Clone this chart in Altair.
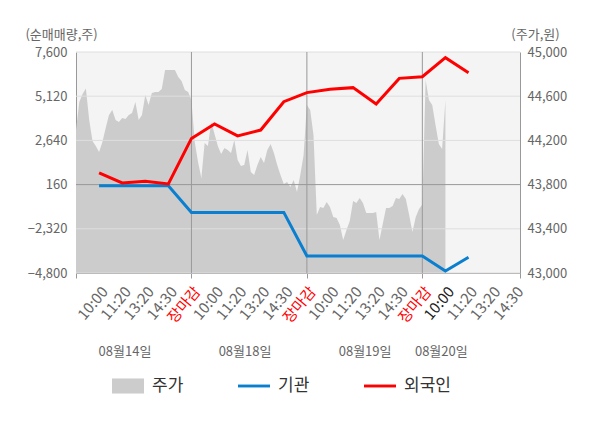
import altair as alt
import pandas as pd

FONT = "Noto Sans CJK KR"

# ---- data ----
series_names = ["주가", "기관", "외국인"]
series_colors = ["#cccccc", "#0a7fd0", "#ff0000"]

slot_labels = ["10:00", "11:20", "13:20", "14:30", "장마감"] * 3 + ["10:00", "11:20", "13:20", "14:30"]
label_slots = list(range(1, 20))

point_slots = list(range(1, 18))
inst_vals = [90, 90, 90, 90, -1400, -1400, -1400, -1400, -1400,
             -3850, -3850, -3850, -3850, -3850, -3850, -4690, -3920]
foreign_vals = [815, 255, 350, 200, 2750, 3560, 2890, 3220, 4810,
                5320, 5510, 5600, 4680, 6120, 6210, 7280, 6440]

price_day1 = [44294, 44548, 44620, 44670, 44385, 44195, 44150, 44095, 44185, 44312,
              44430, 44475, 44385, 44367, 44403, 44394, 44430, 44448, 44548, 44385,
              44430, 44611, 44520, 44629, 44638, 44638, 44665, 44837, 44837, 44837,
              44837, 44774, 44738, 44656, 44638]
price_day2 = [44566, 44185, 44005, 43860, 44177, 44150, 44367, 44258, 44150, 44077,
              44131, 44113, 44086, 44204, 44023, 43968, 43977, 44113, 43914, 43887,
              43977, 44050, 43995, 44113, 44168, 44086, 43977, 43887, 43805, 43823,
              43778, 43842, 43733, 43887, 44068]
price_day3 = [44520, 44475, 44249, 43525, 43597, 43588, 43643, 43597, 43507, 43498,
              43434, 43299, 43389, 43471, 43652, 43634, 43679, 43634, 43543, 43543,
              43543, 43552, 43299, 43444, 43588, 43588, 43606, 43679, 43670, 43715,
              43670, 43525, 43371, 43507, 43579]
price_day4 = [43620, 44747, 44566, 44520, 44340, 44168, 44122, 44566]
samples_per_day = 35

dates = ["08월14일", "08월18일", "08월19일", "08월20일"]
date_slots = [2.1, 7.3, 12.5, 15.8]
day_bounds = [5, 10, 15]
x_end = 19.23

left_ticks = [-4800, -2320, 160, 2640, 5120, 7600]
right_ticks = [43000, 43400, 43800, 44200, 44600, 45000]
zero_level = [160]

# ---- tables ----
rows = []
for d, day in enumerate([price_day1, price_day2, price_day3, price_day4]):
    for i, p in enumerate(day):
        rows.append({"slot": d * 5 + i * 5 / samples_per_day, "price": p})
df_area = pd.DataFrame(rows)

df_inst = pd.DataFrame({"slot": point_slots, "value": inst_vals, "series": "기관"})
df_foreign = pd.DataFrame({"slot": point_slots, "value": foreign_vals, "series": "외국인"})
df_lines = pd.concat([df_inst, df_foreign], ignore_index=True)
df_grid = pd.DataFrame({"v": [t for t in left_ticks if t not in zero_level]})
df_zero = pd.DataFrame({"v": zero_level})
df_days = pd.DataFrame({"slot": day_bounds})

xscale = alt.Scale(domain=[0, x_end], nice=False, zero=False)
yl = alt.Scale(domain=[left_ticks[0], left_ticks[-1]], nice=False, zero=False)
yr = alt.Scale(domain=[right_ticks[0], right_ticks[-1]], nice=False, zero=False)

label_arr = "[" + ",".join("'" + s + "'" for s in slot_labels) + "]"
date_arr = "[" + ",".join("'" + s + "'" for s in dates) + "]"
date_pos = "[" + ",".join(str(v) for v in date_slots) + "]"

area = alt.Chart(df_area).mark_area(color=series_colors[0]).encode(
    x=alt.X("slot:Q", scale=xscale,
            axis=alt.Axis(orient="bottom", values=[0] + day_bounds + [x_end], labels=False,
                          ticks=True, tickSize=5, tickColor="#999999", domainColor="#999999",
                          grid=False, title=None)),
    y=alt.Y("price:Q", scale=yr,
            axis=alt.Axis(orient="right", values=right_ticks,
                          labelExpr="format(datum.value, ',')", ticks=False,
                          domainColor="#999999", labelColor="#666666", labelFontSize=13,
                          labelPadding=7, grid=False, title="(주가,원)", titleAngle=0,
                          titleX=15, titleY=-18, titleAlign="center", titleBaseline="middle",
                          titleColor="#666666", titleFontSize=13, titleFontWeight="normal")),
    y2=alt.Y2(datum=right_ticks[0]),
)

hgrid = alt.Chart(df_grid).mark_rule(color="#dedede", strokeWidth=1).encode(
    y=alt.Y("v:Q", scale=yl, axis=None)
)
zero = alt.Chart(df_zero).mark_rule(color="#999999", strokeWidth=1).encode(
    y=alt.Y("v:Q", scale=yl, axis=None)
)
vrules = alt.Chart(df_days).mark_rule(color="#999999", strokeWidth=1).encode(
    x=alt.X("slot:Q", scale=xscale,
            axis=alt.Axis(orient="bottom", values=date_slots,
                          labelExpr=date_arr + "[indexof(" + date_pos + ", datum.value)]",
                          ticks=False, domain=False, grid=False, labelPadding=72,
                          labelFontSize=13, labelColor="#666666", labelAngle=0,
                          labelAlign="center", title=None))
)

blue_line = alt.Chart(df_inst).mark_line(strokeWidth=3, color=series_colors[1]).encode(
    x=alt.X("slot:Q", scale=xscale,
            axis=alt.Axis(orient="bottom", values=label_slots,
                          labelExpr=label_arr + "[datum.value - 1]",
                          labelAngle=-50, labelAlign="right", labelBaseline="top",
                          labelPadding=11, labelFontSize=15, ticks=False, domain=False,
                          grid=False, title=None, labelOverlap=False,
                          labelColor={"condition": [
                              {"test": "datum.value % 5 === 0", "value": "#ff0000"},
                              {"test": "datum.value === 16", "value": "#222222"}],
                              "value": "#666666"})),
    y=alt.Y("value:Q", scale=yl,
            axis=alt.Axis(orient="left", values=left_ticks,
                          labelExpr="format(datum.value, ',')", ticks=False,
                          domainColor="#999999", labelColor="#666666", labelFontSize=13,
                          labelPadding=9, grid=False, title="(순매매량,주)", titleAngle=0,
                          titleX=-15, titleY=-18, titleAlign="center", titleBaseline="middle",
                          titleColor="#666666", titleFontSize=13, titleFontWeight="normal")),
)

red_line = alt.Chart(df_foreign).mark_line(strokeWidth=3, color=series_colors[2]).encode(
    x=alt.X("slot:Q", scale=xscale, axis=None),
    y=alt.Y("value:Q", scale=yl, axis=None),
)

leg = alt.Legend(orient="none", legendX=36, legendY=318, direction="horizontal", title=None,
                 symbolSize=1024, symbolOpacity=1, symbolStrokeWidth=0,
                 labelFontSize=17, labelColor="#333333", labelOffset=8, columnPadding=54)

legend_pts = alt.Chart(df_lines).mark_point(filled=True, opacity=0).encode(
    x=alt.X("slot:Q", scale=xscale, axis=None),
    y=alt.Y("value:Q", scale=yl, axis=None),
    color=alt.Color("series:N", scale=alt.Scale(domain=series_names, range=series_colors),
                    legend=leg),
    shape=alt.Shape("series:N",
                    scale=alt.Scale(domain=series_names,
                                    range=["M-1,-0.47H1V0.47H-1Z",
                                           "M-1,-0.09H1V0.09H-1Z",
                                           "M-1,-0.09H1V0.09H-1Z"]),
                    legend=leg),
)

chart = alt.layer(area, hgrid, zero, vrules, blue_line, red_line, legend_pts).resolve_scale(
    y="independent"
).resolve_axis(
    x="independent", y="independent"
).properties(
    width=444, height=221, autosize="none",
    padding={"left": 68, "top": 44, "right": 72, "bottom": 140},
).configure(font=FONT).configure_view(fill="#f4f4f4", strokeWidth=0)

chart.save("out.html", embed_options={"renderer": "svg", "actions": False})
